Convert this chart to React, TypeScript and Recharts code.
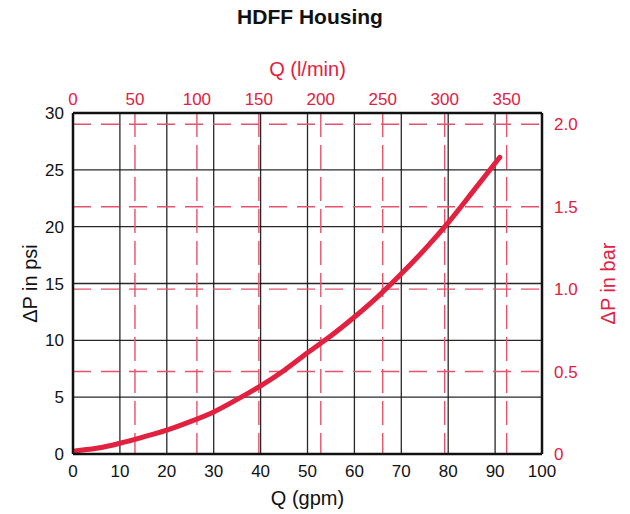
import { LineChart, Line, XAxis, YAxis, CartesianGrid } from 'recharts'

// ── Data ──────────────────────────────────────────────────────────────────

const FLOW_GPM = [0, 5, 10, 15, 20, 25, 30, 35, 40, 45, 50, 55, 60, 65, 70, 75, 80, 85, 91]
const DP_PSI = [0.25, 0.5, 0.95, 1.5, 2.1, 2.85, 3.7, 4.8, 6.0, 7.35, 8.9, 10.4, 12.05, 13.85, 15.85, 18.0, 20.35, 22.95, 26.1]

const GPM_TICKS = [0, 10, 20, 30, 40, 50, 60, 70, 80, 90, 100]
const LPM_TICKS = [0, 50, 100, 150, 200, 250, 300, 350]
const PSI_TICKS = [0, 5, 10, 15, 20, 25, 30]
const BAR_TICKS = [0, 0.5, 1, 1.5, 2]

const GPM_MAX = 100
const PSI_MAX = 30
const LPM_PER_GPM = 3.7854
const BAR_PER_PSI = 0.0689476

// the metric axes are the same flow/pressure, just converted
const data = FLOW_GPM.map((gpm, i) => ({
  gpm,
  lpm: gpm * LPM_PER_GPM,
  psi: DP_PSI[i],
  bar: DP_PSI[i] * BAR_PER_PSI,
}))

// ── Styles ────────────────────────────────────────────────────────────────

const FONT = '"Liberation Sans", Arial, Helvetica, sans-serif'
const RED = '#e2203f'
const RED_GRID = '#e4536b'
const BLACK = '#111'
const TICK_BLACK = { fill: BLACK, fontSize: 17 }
const TICK_RED = { fill: RED, fontSize: 17 }
const AXIS_LINE = { stroke: BLACK, strokeWidth: 2.5 }

function sideLabel(text: string, cx: number, color: string) {
  return (props: any) => {
    const vb = props?.viewBox
    const cy = vb && typeof vb.y === 'number' ? vb.y + vb.height / 2 : 283.5
    return (
      <text
        x={cx} y={cy} fill={color} fontSize={20} textAnchor="middle"
        dominantBaseline="central" transform={`rotate(-90 ${cx} ${cy})`}
      >
        {text}
      </text>
    )
  }
}

export default function App() {
  return (
    <div style={{ position: 'relative', width: 630, height: 514, fontFamily: FONT, background: '#fff' }}>
      <style>{'body{margin:0}'}</style>
      <div
        style={{
          position: 'absolute', top: 3, left: 0, width: 620, textAlign: 'center',
          fontSize: 21, fontWeight: 'bold', color: BLACK, lineHeight: '27px',
        }}
      >
        HDFF Housing
      </div>
      <LineChart width={630} height={514} data={data} margin={{ top: 0, right: 0, bottom: 0, left: 0 }} style={{ fontFamily: FONT }}>
        <CartesianGrid xAxisId="gpm" yAxisId="psi" stroke={BLACK} strokeWidth={1.3} strokeOpacity={0.9} />
        <CartesianGrid xAxisId="lpm" yAxisId="bar" horizontal={false} stroke={RED_GRID} strokeWidth={1.4} strokeDasharray="24 8" />
        <CartesianGrid xAxisId="lpm" yAxisId="bar" vertical={false} stroke={RED_GRID} strokeWidth={1.4} strokeDasharray="18 10" />
        <XAxis
          xAxisId="gpm" dataKey="gpm" type="number" orientation="bottom" domain={[0, GPM_MAX]}
          ticks={GPM_TICKS} interval={0} height={60} tickLine={false} tickSize={0} tickMargin={11}
          axisLine={AXIS_LINE} tick={TICK_BLACK} allowDataOverflow
          label={{ value: 'Q (gpm)', position: 'insideBottom', offset: 9, fill: BLACK, fontSize: 20 }}
        />
        <XAxis
          xAxisId="lpm" dataKey="lpm" type="number" orientation="top" domain={[0, GPM_MAX * LPM_PER_GPM]}
          ticks={LPM_TICKS} interval={0} height={113} tickLine={false} tickSize={0} tickMargin={8}
          axisLine={AXIS_LINE} tick={TICK_RED} allowDataOverflow
          label={{ value: 'Q (l/min)', position: 'insideTop', offset: 62, fill: RED, fontSize: 20 }}
        />
        <YAxis
          yAxisId="psi" dataKey="psi" type="number" orientation="left" domain={[0, PSI_MAX]}
          ticks={PSI_TICKS} interval={0} width={73} tickLine={false} tickSize={0} tickMargin={9}
          axisLine={AXIS_LINE} tick={TICK_BLACK} allowDataOverflow
          label={sideLabel('ΔP in psi', 30, BLACK)}
        />
        <YAxis
          yAxisId="bar" dataKey="bar" type="number" orientation="right" domain={[0, PSI_MAX * BAR_PER_PSI]}
          ticks={BAR_TICKS} interval={0} width={88} tickLine={false} tickSize={0} tickMargin={12}
          axisLine={AXIS_LINE} tick={TICK_RED} allowDataOverflow
          tickFormatter={(v: number) => (v === 0 ? '0' : v.toFixed(1))}
          label={sideLabel('ΔP in bar', 608, RED)}
        />
        <Line
          xAxisId="gpm" yAxisId="psi" type="natural" dataKey="psi" stroke={RED} strokeWidth={5}
          strokeLinecap="round" dot={false} isAnimationActive={false}
        />
      </LineChart>
    </div>
  )
}
